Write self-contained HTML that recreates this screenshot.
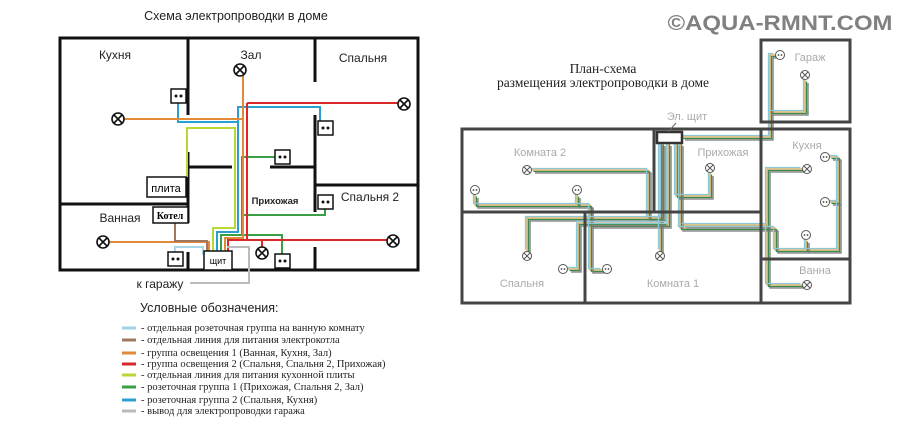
<!DOCTYPE html>
<html><head><meta charset="utf-8"><style>
html,body{margin:0;padding:0;background:#fff;width:900px;height:428px;overflow:hidden}
svg{display:block}
</style></head><body>
<svg width="900" height="428" viewBox="0 0 900 428" xmlns="http://www.w3.org/2000/svg" font-family="Liberation Sans, DejaVu Sans, sans-serif">
<defs>
<g id="w" fill="none">
<path d="M532 170H648V218H662V143"/>
<path d="M475 195V205H590V270H602"/>
<path d="M577 195V205"/>
<path d="M590 205V225H668V143"/>
<path d="M568 269H578V223H665"/>
<path d="M527 251V218H660"/>
<path d="M660 251V143"/>
<path d="M710 173V196H676V143"/>
<path d="M682 137H770V55H775"/>
<path d="M805 80V112H770"/>
<path d="M680 143V228H775V250H838V157H830"/>
<path d="M830 202H838"/>
<path d="M806 240V250"/>
<path d="M802 169H767V285H802"/>
<path d="M683 225H767"/>
</g>
</defs>
<!-- LEFT PLAN -->
<text x="236" y="20" font-size="12.5" text-anchor="middle" fill="#222">Схема электропроводки в доме</text>
<g stroke="#111" stroke-width="3" fill="none">
<rect x="60" y="38" width="358" height="232"/>
<line x1="188" y1="38" x2="188" y2="115"/>
<line x1="188" y1="152" x2="188" y2="223"/>
<line x1="60" y1="204" x2="188" y2="204"/>
<line x1="315" y1="38" x2="315" y2="82"/>
<line x1="315" y1="115" x2="315" y2="212"/>
<line x1="315" y1="185" x2="418" y2="185"/>
<line x1="188" y1="167" x2="232" y2="167"/>
<line x1="270" y1="167" x2="315" y2="167"/>
<line x1="315" y1="247" x2="315" y2="270"/>
<line x1="188" y1="252" x2="188" y2="270"/>
</g>
<g fill="none" stroke-width="2">
<path d="M187 177V128H235V228H213V251" stroke="#b8d838"/>
<path d="M178 103V122H238V232H217V251" stroke="#2a9fd0"/>
<path d="M238 122V107H320V121" stroke="#2a9fd0"/>
<path d="M275 157H242V235H221V251" stroke="#3aa048"/>
<path d="M325 209V215H242" stroke="#3aa048"/>
<path d="M242 235H282V254" stroke="#3aa048"/>
<path d="M124 119H243V76" stroke="#e08a3a"/>
<path d="M243 119V238H225V251" stroke="#e08a3a"/>
<path d="M109 242H209V251" stroke="#e08a3a"/>
<path d="M247 103H398" stroke="#d82828"/>
<path d="M247 103V240H387" stroke="#d82828"/>
<path d="M247 240H228V251" stroke="#d82828"/>
<path d="M262 240V247" stroke="#d82828"/>
<path d="M175 223V241H207V251" stroke="#a07860"/>
<path d="M175 252V247H203V255" stroke="#a8d8e8"/>
<path d="M227 247H249V283H190" stroke="#bbb"/>
</g>
<g fill="#fff" stroke="#111" stroke-width="1.5">
<rect x="147" y="177" width="39" height="20"/>
<rect x="153" y="207" width="35" height="16"/>
<rect x="204" y="251" width="28" height="19"/>
</g>
<text x="166" y="192" font-size="11" text-anchor="middle">плита</text>
<text x="170" y="219" font-size="10" font-weight="bold" font-family="Liberation Serif, serif" text-anchor="middle">Котел</text>
<text x="218" y="264" font-size="9" text-anchor="middle">щит</text>
<g fill="#fff" stroke="#111" stroke-width="1.5">
<rect x="171" y="89" width="15" height="14"/><rect x="318" y="121" width="15" height="14"/>
<rect x="275" y="150" width="15" height="14"/><rect x="318" y="195" width="15" height="14"/>
<rect x="168" y="252" width="15" height="14"/><rect x="275" y="254" width="15" height="14"/>
</g>
<g fill="#111">
<circle cx="176" cy="96" r="1.5"/><circle cx="181" cy="96" r="1.5"/>
<circle cx="323" cy="128" r="1.5"/><circle cx="328" cy="128" r="1.5"/>
<circle cx="280" cy="157" r="1.5"/><circle cx="285" cy="157" r="1.5"/>
<circle cx="323" cy="202" r="1.5"/><circle cx="328" cy="202" r="1.5"/>
<circle cx="173" cy="259" r="1.5"/><circle cx="178" cy="259" r="1.5"/>
<circle cx="280" cy="261" r="1.5"/><circle cx="285" cy="261" r="1.5"/>
</g>
<g fill="#fff" stroke="#111" stroke-width="1.6">
<g transform="translate(118,119)"><circle r="6"/><path d="M-4 -4L4 4M4 -4L-4 4"/></g>
<g transform="translate(240,70)"><circle r="6"/><path d="M-4 -4L4 4M4 -4L-4 4"/></g>
<g transform="translate(404,104)"><circle r="6"/><path d="M-4 -4L4 4M4 -4L-4 4"/></g>
<g transform="translate(103,242)"><circle r="6"/><path d="M-4 -4L4 4M4 -4L-4 4"/></g>
<g transform="translate(262,253)"><circle r="6"/><path d="M-4 -4L4 4M4 -4L-4 4"/></g>
<g transform="translate(393,241)"><circle r="6"/><path d="M-4 -4L4 4M4 -4L-4 4"/></g>
</g>
<g font-size="12" fill="#222" text-anchor="middle">
<text x="115" y="59">Кухня</text><text x="251" y="59">Зал</text><text x="363" y="62">Спальня</text>
<text x="370" y="201">Спальня 2</text><text x="120" y="222">Ванная</text>
<text x="160" y="288">к гаражу</text>
</g>
<text x="275" y="204" font-size="9.5" font-weight="bold" text-anchor="middle" fill="#222">Прихожая</text>
<!-- LEGEND -->
<text x="140" y="312" font-size="12.5" fill="#222">Условные обозначения:</text>
<g stroke-width="3">
<line x1="122" y1="328" x2="136" y2="328" stroke="#9fd4e8"/>
<line x1="122" y1="340" x2="136" y2="340" stroke="#a07860"/>
<line x1="122" y1="353" x2="136" y2="353" stroke="#e08a3a"/>
<line x1="122" y1="364" x2="136" y2="364" stroke="#d82828"/>
<line x1="122" y1="375" x2="136" y2="375" stroke="#b8d838"/>
<line x1="122" y1="387" x2="136" y2="387" stroke="#3aa048"/>
<line x1="122" y1="400" x2="136" y2="400" stroke="#2a9fd0"/>
<line x1="122" y1="411" x2="136" y2="411" stroke="#bbb"/>
</g>
<g font-family="Liberation Serif, serif" font-size="10.5" fill="#222">
<text x="141" y="331">- отдельная розеточная группа на ванную комнату</text>
<text x="141" y="343">- отдельная линия для питания электрокотла</text>
<text x="141" y="356">- группа освещения 1 (Ванная, Кухня, Зал)</text>
<text x="141" y="367">- группа освещения 2 (Спальня, Спальня 2, Прихожая)</text>
<text x="141" y="378">- отдельная линия для питания кухонной плиты</text>
<text x="141" y="390">- розеточная группа 1 (Прихожая, Спальня 2, Зал)</text>
<text x="141" y="403">- розеточная группа 2 (Спальня, Кухня)</text>
<text x="141" y="414">- вывод для электропроводки гаража</text>
</g>
<!-- RIGHT PLAN -->
<text x="780" y="30" font-size="21" font-weight="bold" fill="#808080" textLength="225" lengthAdjust="spacingAndGlyphs" text-anchor="middle">©AQUA-RMNT.COM</text>
<g font-family="Liberation Serif, serif" font-size="13.5" fill="#222" text-anchor="middle">
<text x="603" y="73">План-схема</text><text x="603" y="87">размещения электропроводки в доме</text>
</g>
<g stroke-width="1.3">
<use href="#w" stroke="#d8a850"/>
<use href="#w" stroke="#3a8a50" transform="translate(1.5,1.5)"/>
<use href="#w" stroke="#777" transform="translate(3,3)"/>
<use href="#w" stroke="#8cc8d8" transform="translate(-1.5,-1.5)"/>
</g>
<g stroke="#444" stroke-width="3" fill="none">
<rect x="462" y="129" width="388" height="174"/>
<rect x="761" y="40" width="89" height="82"/>
<line x1="654" y1="129" x2="654" y2="212"/>
<line x1="462" y1="212" x2="761" y2="212"/>
<line x1="585" y1="212" x2="585" y2="303"/>
<line x1="761" y1="129" x2="761" y2="303"/>
<line x1="761" y1="259" x2="850" y2="259"/>
</g>
<rect x="657" y="132" width="25" height="11" fill="#fff" stroke="#333" stroke-width="2.5"/>
<line x1="676" y1="123" x2="668" y2="132" stroke="#666"/>
<g font-size="11" fill="#aaa" text-anchor="middle">
<text x="687" y="120">Эл. щит</text>
<text x="540" y="156">Комната 2</text><text x="723" y="156">Прихожая</text>
<text x="807" y="149">Кухня</text><text x="810" y="61">Гараж</text>
<text x="522" y="287">Спальня</text><text x="673" y="287">Комната 1</text>
<text x="815" y="274">Ванна</text>
</g>
<g fill="#fff" stroke="#555" stroke-width="1">
<g transform="translate(527,170)"><circle r="4.5"/><path d="M-3 -3L3 3M3 -3L-3 3"/></g>
<g transform="translate(710,168)"><circle r="4.5"/><path d="M-3 -3L3 3M3 -3L-3 3"/></g>
<g transform="translate(807,169)"><circle r="4.5"/><path d="M-3 -3L3 3M3 -3L-3 3"/></g>
<g transform="translate(527,256)"><circle r="4.5"/><path d="M-3 -3L3 3M3 -3L-3 3"/></g>
<g transform="translate(660,256)"><circle r="4.5"/><path d="M-3 -3L3 3M3 -3L-3 3"/></g>
<g transform="translate(807,285)"><circle r="4.5"/><path d="M-3 -3L3 3M3 -3L-3 3"/></g>
<g transform="translate(805,75)"><circle r="4.5"/><path d="M-3 -3L3 3M3 -3L-3 3"/></g>
<circle cx="475" cy="190" r="4.5"/><circle cx="577" cy="190" r="4.5"/>
<circle cx="825" cy="157" r="4.5"/><circle cx="825" cy="202" r="4.5"/>
<circle cx="806" cy="235" r="4.5"/><circle cx="563" cy="269" r="4.5"/>
<circle cx="607" cy="269" r="4.5"/><circle cx="780" cy="55" r="4.5"/>
</g>
<g fill="#444">
<circle cx="473.5" cy="190" r="0.9"/><circle cx="476.5" cy="190" r="0.9"/>
<circle cx="575.5" cy="190" r="0.9"/><circle cx="578.5" cy="190" r="0.9"/>
<circle cx="823.5" cy="157" r="0.9"/><circle cx="826.5" cy="157" r="0.9"/>
<circle cx="823.5" cy="202" r="0.9"/><circle cx="826.5" cy="202" r="0.9"/>
<circle cx="804.5" cy="235" r="0.9"/><circle cx="807.5" cy="235" r="0.9"/>
<circle cx="561.5" cy="269" r="0.9"/><circle cx="564.5" cy="269" r="0.9"/>
<circle cx="605.5" cy="269" r="0.9"/><circle cx="608.5" cy="269" r="0.9"/>
<circle cx="778.5" cy="55" r="0.9"/><circle cx="781.5" cy="55" r="0.9"/>
</g>
</svg>
</body></html>
